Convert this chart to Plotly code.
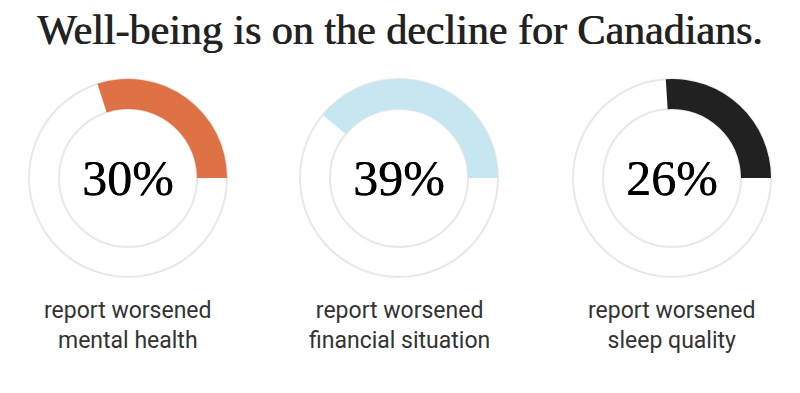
import plotly.graph_objects as go

title = "Well-being is on the decline for Canadians."
percents = [30, 39, 26]
labels = ["report worsened<br>mental health",
          "report worsened<br>financial situation",
          "report worsened<br>sleep quality"]
colors = ["#DF7245", "#C6E6F0", "#212121"]

W, H = 800, 393
OFF = 8  # page body margin
centers_x = [128 - OFF, 399 - OFF, 672 - OFF]
cy = 178 - OFF
R_out = 99
R_in = 69

fig = go.Figure()
shapes = []
annotations = []
for i, (p, lab, col, cx) in enumerate(zip(percents, labels, colors, centers_x)):
    x0, x1 = (cx - R_out) / W, (cx + R_out) / W
    y0, y1 = 1 - (cy + R_out) / H, 1 - (cy - R_out) / H
    fig.add_trace(go.Pie(
        values=[p, 100 - p],
        marker=dict(colors=[col, "rgba(0,0,0,0)"], line=dict(width=0)),
        hole=R_in / R_out,
        sort=False,
        direction="clockwise",
        rotation=90 - p * 3.6,
        textinfo="none",
        hoverinfo="skip",
        showlegend=False,
        domain=dict(x=[x0, x1], y=[y0, y1]),
    ))
    for r in (R_out, R_in):
        shapes.append(dict(
            type="circle", xref="paper", yref="paper", layer="below",
            x0=(cx - r) / W, x1=(cx + r) / W,
            y0=1 - (cy + r) / H, y1=1 - (cy - r) / H,
            line=dict(color="#e8e8e8", width=2),
            fillcolor="rgba(0,0,0,0)",
        ))
    annotations.append(dict(
        text=f"{p}%", x=cx / W, y=1 - cy / H, xref="paper", yref="paper",
        showarrow=False, xanchor="center", yanchor="middle",
        font=dict(family="Liberation Serif", size=50, color="#000000",
                  shadow="0.6px 0 0 #000000"),
    ))
    annotations.append(dict(
        text=lab, x=cx / W, y=1 - (325 - OFF) / H, xref="paper", yref="paper",
        showarrow=False, xanchor="center", yanchor="middle",
        font=dict(family="Roboto", size=23, color="#333333"),
    ))

annotations.append(dict(
    text=title, x=(400 - OFF) / W, y=1 - (30 - OFF) / H,
    xref="paper", yref="paper",
    showarrow=False, xanchor="center", yanchor="middle",
    font=dict(family="Liberation Serif", size=42, color="#222222",
              shadow="0.8px 0 0 #222222"),
))

fig.update_layout(
    width=W, height=H,
    margin=dict(l=0, r=0, t=0, b=0),
    paper_bgcolor="white", plot_bgcolor="white",
    shapes=shapes, annotations=annotations,
)
fig.write_html("out.html")
